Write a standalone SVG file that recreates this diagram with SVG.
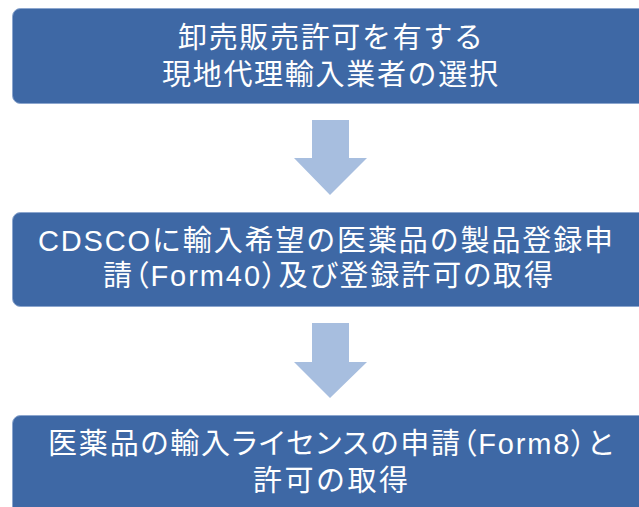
<svg xmlns="http://www.w3.org/2000/svg" width="639" height="507" viewBox="0 0 639 507">
<style>
.box{fill:#3E68A5;stroke:#8CA6CE;stroke-width:1}
.arr{fill:#A7BEDF}
.t{font-family:"Liberation Sans","Noto Sans CJK JP",sans-serif;font-size:29px;fill:#FFFFFF}
.p{font-feature-settings:"palt"}
</style>
<rect width="639" height="507" fill="#FFFFFF"/>
<g id="node1">
<rect class="box" x="12.5" y="8.5" width="660" height="95" rx="8"/>
<text class="t" x="178" y="48" textLength="305" lengthAdjust="spacing">卸売販売許可を有する</text>
<text class="t" x="162" y="85" textLength="336" lengthAdjust="spacing">現地代理輸入業者の選択</text>
</g>
<g id="node2">
<rect class="box" x="12.5" y="212.5" width="660" height="94" rx="8"/>
<text class="t" x="38" y="251" textLength="575" lengthAdjust="spacing">CDSCOに輸入希望の医薬品の製品登録申</text>
<text class="t p" x="103" y="286" textLength="450" lengthAdjust="spacing">請（Form40）及び登録許可の取得</text>
</g>
<g id="node3">
<rect class="box" x="12.5" y="415.5" width="660" height="100" rx="8"/>
<text class="t p" x="48" y="454" textLength="565" lengthAdjust="spacing">医薬品の輸入ライセンスの申請（Form8）と</text>
<text class="t" x="253" y="491" textLength="155" lengthAdjust="spacing">許可の取得</text>
</g>
<g id="connectors">
<polygon class="arr" points="312,120 349,120 349,158 367,158 330,195 294,158 312,158"/>
<polygon class="arr" points="312,323 349,323 349,362 367,362 330,398 294,362 312,362"/>
</g>
</svg>
